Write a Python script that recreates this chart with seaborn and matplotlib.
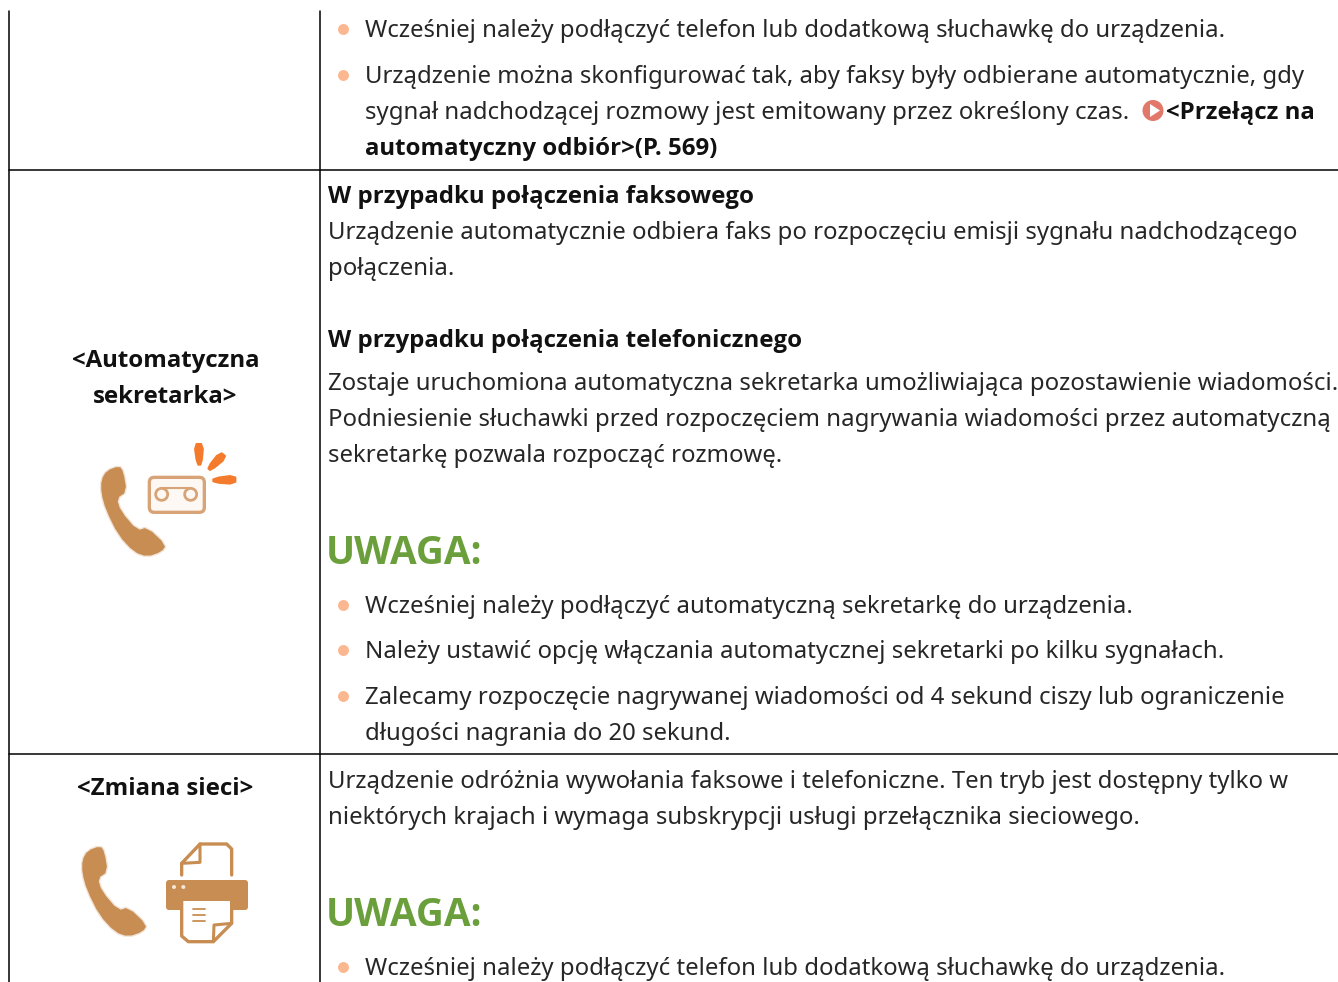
import numpy as np
import pandas as pd
import seaborn as sns
from matplotlib import pyplot as plt
from matplotlib.patches import Polygon, FancyBboxPatch, Circle, Ellipse

# text of the table, one list per cell
top_bullets = ["Wcześniej należy podłączyć telefon lub dodatkową słuchawkę do urządzenia.",
               "Urządzenie można skonfigurować tak, aby faksy były odbierane automatycznie, gdy"]
top_cont = "sygnał nadchodzącej rozmowy jest emitowany przez określony czas."
top_link = ["<Przełącz na", "automatyczny odbiór>(P. 569)"]

auto_label = ["<Automatyczna", "sekretarka>"]
auto_head1 = "W przypadku połączenia faksowego"
auto_body1 = ["Urządzenie automatycznie odbiera faks po rozpoczęciu emisji sygnału nadchodzącego",
              "połączenia."]
auto_head2 = "W przypadku połączenia telefonicznego"
auto_body2 = ["Zostaje uruchomiona automatyczna sekretarka umożliwiająca pozostawienie wiadomości.",
              "Podniesienie słuchawki przed rozpoczęciem nagrywania wiadomości przez automatyczną",
              "sekretarkę pozwala rozpocząć rozmowę."]
note = "UWAGA:"
auto_bullets = ["Wcześniej należy podłączyć automatyczną sekretarkę do urządzenia.",
                "Należy ustawić opcję włączania automatycznej sekretarki po kilku sygnałach.",
                "Zalecamy rozpoczęcie nagrywanej wiadomości od 4 sekund ciszy lub ograniczenie"]
auto_cont = "długości nagrania do 20 sekund."

net_label = "<Zmiana sieci>"
net_body = ["Urządzenie odróżnia wywołania faksowe i telefoniczne. Ten tryb jest dostępny tylko w",
            "niektórych krajach i wymaga subskrypcji usługi przełącznika sieciowego."]
net_bullet = "Wcześniej należy podłączyć telefon lub dodatkową słuchawkę do urządzenia."

INK = "#262626"
HEAD = "#111111"
BROWN = "#c88d52"
GREEN = "#6a9f3c"
SIZE = 23.92 * 0.72
BOLD = 24 * 0.72

sns.set_theme(style="white")
plt.rcParams["font.family"] = ["Noto Sans", "DejaVu Sans"]

fig = plt.figure(figsize=(13.38, 9.82), dpi=100)
ax = fig.add_axes([0, 0, 1, 1])


def put(x, y, s, bold=False, color=INK, size=None, ha="left"):
    if bold:
        ax.text(x, y, s, fontsize=size or BOLD, color=color, ha=ha, va="baseline",
                family="Open Sans", fontweight="bold", clip_on=True)
    else:
        ax.text(x, y, s, fontsize=size or SIZE, color=color, ha=ha, va="baseline", clip_on=True)


def smooth(pts, rounds=2):
    # corner cutting, keeps the icon outlines soft
    pts = np.asarray(pts, dtype=float)
    for _ in range(rounds):
        nxt = np.roll(pts, -1, axis=0)
        pts = np.column_stack([0.75 * pts + 0.25 * nxt, 0.25 * pts + 0.75 * nxt]).reshape(-1, 2)
    return pts


# table rules
rules = pd.DataFrame({"x": [9, 9, 320, 320, 9, 1338, 9, 1338],
                      "y": [11, 982, 11, 982, 170, 170, 754, 754],
                      "rule": list("aabbccdd")})
sns.lineplot(data=rules, x="x", y="y", units="rule", estimator=None, sort=False,
             color="black", linewidth=1.1, ax=ax, legend=False)

# bullets
bullet_rows = [29, 75, 605, 650, 696, 967]
sns.scatterplot(x=[343] * len(bullet_rows), y=bullet_rows, color="#fbb78f", s=62,
                linewidth=0, ax=ax, legend=False)

# first row
put(365, 37, top_bullets[0])
put(365, 83, top_bullets[1])
put(365, 119, top_cont)
put(1166, 119, top_link[0], bold=True, color=HEAD)
put(365, 155, top_link[1], bold=True, color=HEAD)
ax.add_patch(Circle((1153, 110.5), 10.5, fc="#e2786a", ec="none"))
ax.add_patch(Polygon([(1150, 104), (1150, 117), (1160, 110.5)], fc="white", ec="none"))

# second row
put(165.5, 367, auto_label[0], bold=True, color=HEAD, ha="center")
put(165.5, 403, auto_label[1], bold=True, color=HEAD, ha="center")
put(328, 203, auto_head1, bold=True, color=HEAD)
put(328, 239, auto_body1[0])
put(328, 275, auto_body1[1])
put(328, 347, auto_head2, bold=True, color=HEAD)
put(328, 390, auto_body2[0])
put(328, 426, auto_body2[1])
put(328, 462, auto_body2[2])
put(325.5, 564, note, bold=True, color=GREEN, size=27.8)
put(365, 613, auto_bullets[0])
put(365, 658, auto_bullets[1])
put(365, 704, auto_bullets[2])
put(365, 740, auto_cont)

# third row
put(165.5, 795, net_label, bold=True, color=HEAD, ha="center")
put(328, 788, net_body[0])
put(328, 824, net_body[1])
put(325.5, 926, note, bold=True, color=GREEN, size=27.8)
put(365, 975, net_bullet)


# icons, zoomed-crop coordinates are divided by 3
def zoom1(x, y):
    return 60 + x / 3, 430 + y / 3


def zoom2(x, y):
    return 60 + x / 3, 830 + y / 3


def handset(dx, dy):
    shape = [(124, 150), (140, 122), (178, 108), (190, 125), (200, 185), (170, 205),
             (182, 243), (232, 302), (262, 292), (318, 345), (305, 365), (262, 380),
             (222, 366), (175, 315), (138, 240), (124, 190)]
    pts = smooth([zoom1(*p) for p in shape], 1) + [dx, dy]
    ax.add_patch(Polygon(pts, fc=BROWN, ec=BROWN, alpha=0.25, lw=2, joinstyle="round"))
    ax.add_patch(Polygon(pts, fc=BROWN, ec="none"))


handset(0, 0)
handset(-19, 380)

# cassette
x0, y0 = zoom1(268, 142)
ax.add_patch(FancyBboxPatch((x0 + 3, y0 + 3), 49, 29, boxstyle="round,pad=3,rounding_size=5",
                            fc="#fdf8f3", ec="#d8a477", lw=2.4))
for cx in (305, 392):
    ax.add_patch(Circle(zoom1(cx, 193), 6, fc="none", ec="#d8a477", lw=2))
ax.plot(*zip(zoom1(305, 175), zoom1(392, 175)), color="#d8a477", lw=1.5)

# rays
for ray in ([(403, 42), (430, 42), (424, 104), (412, 104)],
            [(480, 66), (500, 82), (452, 122), (443, 113)],
            [(526, 136), (526, 162), (460, 157), (460, 145)]):
    pts = smooth([zoom1(*p) for p in ray], 1)
    ax.add_patch(Polygon(pts, fc="#f47b2c", ec="#f47b2c", lw=1.5, joinstyle="round"))

# printer
doc = [(365, 135), (365, 100), (420, 42), (500, 42), (515, 57), (515, 135)]
ax.plot(*zip(*[zoom2(*p) for p in doc]), color=BROWN, lw=2.4, solid_joinstyle="round")
fold = [(420, 42), (420, 97), (365, 100)]
ax.plot(*zip(*[zoom2(*p) for p in fold]), color=BROWN, lw=2.2, solid_joinstyle="round")
bx, by = zoom2(318, 150)
ax.add_patch(FancyBboxPatch((bx + 2, by + 2), 78, 26, boxstyle="round,pad=2,rounding_size=3",
                            fc=BROWN, ec="none"))
sheet = [(365, 208), (515, 208), (515, 280), (460, 335), (385, 335), (365, 318)]
ax.add_patch(Polygon([zoom2(*p) for p in sheet], fc="white", ec=BROWN, lw=2.4, joinstyle="round"))
fold2 = [(515, 280), (462, 285), (460, 335)]
ax.plot(*zip(*[zoom2(*p) for p in fold2]), color=BROWN, lw=2.2, solid_joinstyle="round")
for yy, x1 in ((237, 435), (255, 435), (272, 435)):
    ax.plot(*zip(zoom2(400, yy), zoom2(x1, yy)), color=BROWN, lw=1.3)
for cx in (342, 370):
    ax.add_patch(Ellipse(zoom2(cx, 171), 4, 4, fc="#f5e6d6", ec="none", zorder=3))

ax.set_xlim(0, 1338)
ax.set_ylim(982, 0)
ax.set_xlabel("")
ax.set_ylabel("")
ax.axis("off")

fig.savefig("out.png", dpi=100, facecolor="white")
